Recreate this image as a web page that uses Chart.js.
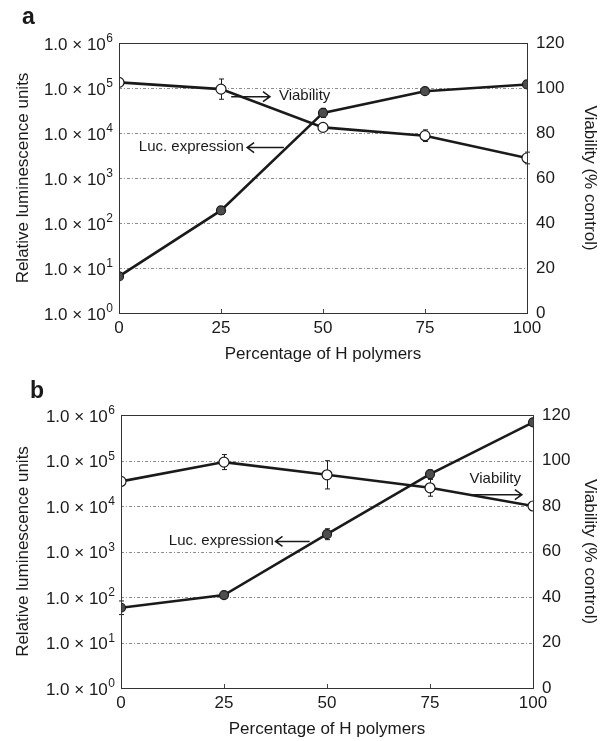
<!DOCTYPE html>
<html>
<head>
<meta charset="utf-8">
<script src="https://cdn.jsdelivr.net/npm/chart.js@4.4.0/dist/chart.umd.min.js"></script>
<style>
  body { margin: 0; background: #fff; width: 608px; height: 741px; overflow: hidden; }
  canvas { display: block; }
</style>
</head>
<body>
<canvas id="panelA" width="608" height="370"></canvas>
<canvas id="panelB" width="608" height="371"></canvas>
<script>
// x categories: percentage of H polymers
const polymerPct = [0, 25, 50, 75, 100];

// panel a
const lucA = [6.5, 190, 28000, 85000, 120000];
const lucErrA = [0, 0.08, 0.1, 0, 0];      // in decades
const vitA = [102.5, 99.5, 82.5, 78.8, 68.9];
const vitErrA = [0, 4.5, 0, 2.6, 2.6];

// panel b
const lucB = [58, 110, 2400, 50000, 690000];
const lucErrB = [0.15, 0.06, 0.12, 0.09, 0];
const vitB = [90.8, 99.3, 93.7, 88, 80];
const vitErrB = [0, 3.3, 6.2, 3.7, 0];

// axis ticks
const lumTicks = [1, 10, 100, 1000, 10000, 100000, 1000000];
const vitTicks = [0, 20, 40, 60, 80, 100, 120];

const FONT = "'Liberation Sans', Arial, sans-serif";
const INK = '#1a1a1a';

// annotation texts with arrows (x in %, y on given axis)
const notesA = [
  { text: 'Viability', axis: 'y2', y: 96.6, textX: 39.2, align: 'left', arrowFrom: 27.5, arrowTo: 37 },
  { text: 'Luc. expression', axis: 'y', y: 5000, textX: 30.6, align: 'right', arrowFrom: 40.4, arrowTo: 31.4 }
];
const notesB = [
  { text: 'Viability', axis: 'y2', y: 92, textX: 84.6, align: 'left', arrowY: 85, arrowFrom: 85, arrowTo: 97.3 },
  { text: 'Luc. expression', axis: 'y', y: 1750, textX: 37.1, align: 'right', arrowFrom: 45.8, arrowTo: 37.5 }
];

const decor = {
  id: 'decor',
  beforeDatasetsDraw(chart, args, opts) {
    const { ctx, chartArea: a, scales } = chart;
    const x = scales.x;
    ctx.save();
    // dotted gridlines at each decade
    ctx.strokeStyle = '#8c8c8c';
    ctx.lineWidth = 1;
    ctx.setLineDash([3, 2, 1, 2]);
    lumTicks.slice(1, -1).forEach(v => {
      const py = Math.round(scales.y.getPixelForValue(v)) + 0.5;
      ctx.beginPath(); ctx.moveTo(a.left, py); ctx.lineTo(a.right, py); ctx.stroke();
    });
    ctx.setLineDash([]);
    // small inner ticks on x axis
    ctx.strokeStyle = '#444';
    polymerPct.slice(1, -1).forEach(v => {
      const px = Math.round(x.getPixelForValue(v)) + 0.5;
      ctx.beginPath(); ctx.moveTo(px, a.bottom); ctx.lineTo(px, a.bottom - 4); ctx.stroke();
    });
    // error bars
    ctx.strokeStyle = INK;
    ctx.lineWidth = 1;
    chart.data.datasets.forEach(ds => {
      const sc = scales[ds.yAxisID];
      ds.data.forEach((p, j) => {
        const e = ds.err[j];
        if (!e) return;
        const lo = ds.logErr ? p.y / Math.pow(10, e) : p.y - e;
        const hi = ds.logErr ? p.y * Math.pow(10, e) : p.y + e;
        const px = Math.round(x.getPixelForValue(p.x)) + 0.5;
        const y1 = sc.getPixelForValue(lo), y2 = sc.getPixelForValue(hi);
        ctx.beginPath();
        ctx.moveTo(px, y1); ctx.lineTo(px, y2);
        ctx.moveTo(px - 2.5, y1); ctx.lineTo(px + 2.5, y1);
        ctx.moveTo(px - 2.5, y2); ctx.lineTo(px + 2.5, y2);
        ctx.stroke();
      });
    });
    ctx.restore();
  },
  afterDraw(chart, args, opts) {
    const { ctx, chartArea: a, scales } = chart;
    ctx.save();
    // plot frame
    ctx.strokeStyle = '#333';
    ctx.lineWidth = 1;
    ctx.strokeRect(Math.round(a.left) + 0.5, Math.round(a.top) + 0.5,
      Math.round(a.right - a.left), Math.round(a.bottom - a.top));

    // left tick labels 1.0 x 10^n
    ctx.fillStyle = INK;
    lumTicks.forEach(v => {
      const k = Math.round(Math.log10(v));
      const py = scales.y.getPixelForValue(v);
      const right = a.left - 6;
      ctx.font = '12px ' + FONT;
      const ew = ctx.measureText(String(k)).width;
      ctx.textAlign = 'right';
      ctx.textBaseline = 'alphabetic';
      ctx.fillText(String(k), right, py - 1);
      ctx.font = '17px ' + FONT;
      ctx.textBaseline = 'middle';
      ctx.fillText('1.0 \u00d7 10', right - ew - 0.5, py + 2);
    });

    // panel letter
    ctx.font = 'bold 23px ' + FONT;
    ctx.textAlign = 'left';
    ctx.textBaseline = 'middle';
    ctx.fillText(opts.letter, opts.letterX, opts.letterY);

    // annotations with arrows
    ctx.font = '15px ' + FONT;
    ctx.strokeStyle = INK;
    ctx.lineWidth = 1.5;
    opts.notes.forEach(n => {
      const sc = scales[n.axis];
      const ty = sc.getPixelForValue(n.y);
      ctx.textAlign = n.align;
      ctx.fillText(n.text, scales.x.getPixelForValue(n.textX), ty);
      const ay = n.arrowY !== undefined ? sc.getPixelForValue(n.arrowY) : ty + 1;
      const x1 = scales.x.getPixelForValue(n.arrowFrom);
      const x2 = scales.x.getPixelForValue(n.arrowTo);
      const dir = x2 > x1 ? 1 : -1;
      ctx.beginPath();
      ctx.moveTo(x1, ay); ctx.lineTo(x2, ay);
      ctx.moveTo(x2 - dir * 7, ay - 5); ctx.lineTo(x2, ay); ctx.lineTo(x2 - dir * 7, ay + 5);
      ctx.stroke();
    });
    ctx.restore();
  }
};

function makePanel(id, luc, lucErr, vit, vitErr, lay) {
  const lineStyle = { borderColor: INK, borderWidth: 2.6, pointBorderColor: INK, pointBorderWidth: 1.2, tension: 0 };
  new Chart(document.getElementById(id), {
    type: 'line',
    data: {
      datasets: [
        Object.assign({
          label: 'Luc. expression',
          data: polymerPct.map((x, i) => ({ x: x, y: luc[i] })),
          yAxisID: 'y', err: lucErr, logErr: true,
          pointBackgroundColor: '#4d4d4d', pointRadius: 4.5
        }, lineStyle),
        Object.assign({
          label: 'Viability',
          data: polymerPct.map((x, i) => ({ x: x, y: vit[i] })),
          yAxisID: 'y2', err: vitErr, logErr: false,
          pointBackgroundColor: '#fff', pointRadius: 5
        }, lineStyle)
      ]
    },
    options: {
      responsive: false,
      animation: false,
      devicePixelRatio: 1,
      layout: { padding: { top: lay.top, left: 0, right: 0, bottom: 0 } },
      plugins: {
        legend: { display: false },
        tooltip: { enabled: false },
        decor: { letter: lay.letter, letterX: lay.letterX, letterY: lay.letterY, notes: lay.notes }
      },
      scales: {
        x: {
          type: 'linear', min: 0, max: 100,
          afterBuildTicks: s => { s.ticks = polymerPct.map(v => ({ value: v })); },
          afterFit: s => { s.height = lay.xHeight; },
          ticks: { font: { family: FONT, size: 17 }, color: INK, padding: 5, maxRotation: 0 },
          grid: { display: false, drawTicks: false },
          border: { display: false },
          title: { display: true, text: 'Percentage of H polymers', color: INK,
            font: { family: FONT, size: 17 }, padding: { top: 0, bottom: lay.titleBottom } }
        },
        y: {
          type: 'logarithmic', position: 'left', min: 1, max: 1000000,
          afterBuildTicks: s => { s.ticks = lumTicks.map(v => ({ value: v })); },
          afterFit: s => { s.width = lay.left; },
          ticks: { display: false },
          grid: { display: false, drawTicks: false },
          border: { display: false },
          title: { display: true, text: 'Relative luminescence units', color: INK,
            font: { family: FONT, size: 17 }, padding: { top: 13, bottom: 0 } }
        },
        y2: {
          type: 'linear', position: 'right', min: 0, max: 120,
          afterBuildTicks: s => { s.ticks = vitTicks.map(v => ({ value: v })); },
          afterFit: s => { s.width = lay.rightW; },
          ticks: { font: { family: FONT, size: 17 }, color: INK, padding: 9 },
          grid: { display: false, drawTicks: false },
          border: { display: false },
          title: { display: true, text: 'Viability (% control)', color: INK,
            font: { family: FONT, size: 17 }, padding: { top: 8, bottom: 0 } }
        }
      }
    },
    plugins: [decor]
  });
}

makePanel('panelA', lucA, lucErrA, vitA, vitErrA,
  { top: 43, left: 119, rightW: 81, xHeight: 57, titleBottom: 5, letter: 'a', letterX: 22, letterY: 18, notes: notesA });
makePanel('panelB', lucB, lucErrB, vitB, vitErrB,
  { top: 45, left: 121, rightW: 75, xHeight: 53, titleBottom: 1, letter: 'b', letterX: 30, letterY: 22, notes: notesB });
</script>
</body>
</html>
